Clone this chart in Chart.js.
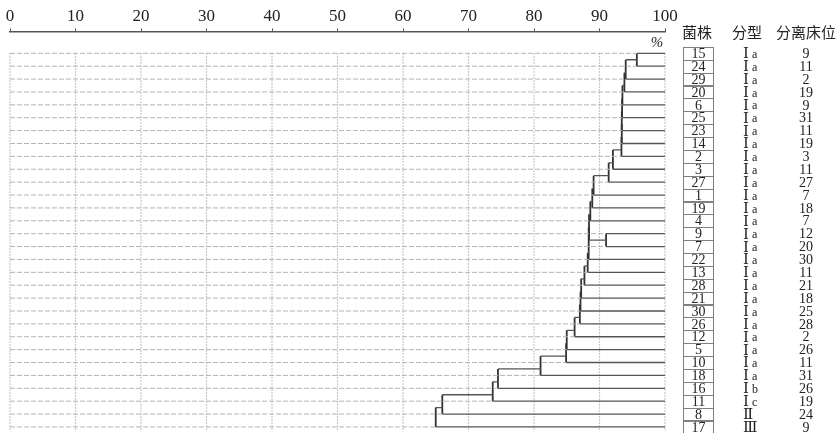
<!DOCTYPE html>
<html>
<head>
<meta charset="utf-8">
<script src="https://cdn.jsdelivr.net/npm/chart.js@4.4.1/dist/chart.umd.min.js"></script>
<style>
  html, body { margin: 0; padding: 0; background: #fff; }
  #wrap { width: 837px; height: 433px; }
</style>
</head>
<body>
<div id="wrap"><canvas id="myChart"></canvas></div>
<script>
// leaf order, top to bottom
const strains = ['15','24','29','20','6','25','23','14','2','3','27','1','19','4','9','7','22','13','28','21','30','26','12','5','10','18','16','11','8','17']
const typeMain = ['Ⅰ','Ⅰ','Ⅰ','Ⅰ','Ⅰ','Ⅰ','Ⅰ','Ⅰ','Ⅰ','Ⅰ','Ⅰ','Ⅰ','Ⅰ','Ⅰ','Ⅰ','Ⅰ','Ⅰ','Ⅰ','Ⅰ','Ⅰ','Ⅰ','Ⅰ','Ⅰ','Ⅰ','Ⅰ','Ⅰ','Ⅰ','Ⅰ','Ⅱ','Ⅲ']
const typeSub = ['a','a','a','a','a','a','a','a','a','a','a','a','a','a','a','a','a','a','a','a','a','a','a','a','a','a','b','c','','']
const beds = [9,11,2,19,9,31,11,19,3,11,27,7,18,7,12,20,30,11,21,18,25,28,2,26,11,31,26,19,24,9]
const xTicks = [0,10,20,30,40,50,60,70,80,90,100]

// merges: cluster cN joins mergeA[N] and mergeB[N] at similarity mergeH[N] (%)
const mergeA = ['15','c0','c1','c2','c3','c4','c5','c6','c7','c8','9','c9','c11','c12','c13','c14','c15','c16','c17','c18','c19','c20','c21','c22','c23','c24','c25','c26','c27']
const mergeB = ['24','29','20','6','25','23','14','2','3','27','7','1','19','4','c10','22','13','28','21','30','26','12','5','10','18','16','11','8','17']
const mergeH = [95.7,94.0,93.8,93.5,93.45,93.4,93.4,93.35,92.05,91.4,91.0,89.1,88.9,88.6,88.4,88.35,88.2,87.7,87.2,87.1,87.0,86.2,85.0,84.9,81.0,74.5,73.7,66.0,65.0]

const nodes = {}
strains.forEach((s, i) => { nodes[s] = {y: i, first: i, last: i, h: 100, leaf: true} })

const solidH = []   // horizontal branches
const solidV = []   // vertical joins
const dashed = []   // leaf extensions to 0
mergeA.forEach((a, i) => {
    const A = nodes[a], B = nodes[mergeB[i]], h = mergeH[i]
    ;[A, B].forEach(n => {
        solidH.push([{x: n.h, y: n.y}, {x: h, y: n.y}])
        if (n.leaf) dashed.push([{x: 0, y: n.y}, {x: h, y: n.y}])
    })
    solidV.push([{x: h, y: A.y}, {x: h, y: B.y}])
    nodes['c' + i] = {y: (A.last + B.first) / 2, first: A.first, last: B.last, h: h, leaf: false}
})

const seg = (pts, color, width, dash) => ({
    data: pts, showLine: true, borderColor: color, borderWidth: width,
    borderDash: dash || [], pointRadius: 0, fill: false
})
const datasets = []
dashed.forEach(p => datasets.push(seg(p, '#b4b4b4', 1, [5, 2])))
solidH.forEach(p => datasets.push(seg(p, '#555', 1.3)))
solidV.forEach(p => datasets.push(seg(p, '#333', 1.8)))

const serif = "'Liberation Serif', 'DejaVu Serif', serif"
const cjk = "'Noto Sans CJK SC', sans-serif"

const extras = {
    id: 'extras',
    beforeDatasetsDraw(chart) {
        const ctx = chart.ctx, xs = chart.scales.x, ys = chart.scales.y
        ctx.save()
        ctx.strokeStyle = '#b8b8b8'
        ctx.lineWidth = 1.2
        ctx.setLineDash([1.5, 1.5])
        xTicks.forEach(v => {
            const x = xs.getPixelForValue(v)
            ctx.beginPath()
            ctx.moveTo(x, ys.getPixelForValue(0))
            ctx.lineTo(x, ys.getPixelForValue(29.35))
            ctx.stroke()
        })
        ctx.restore()
    },
    afterDraw(chart) {
        const ctx = chart.ctx, xs = chart.scales.x, ys = chart.scales.y
        ctx.save()
        ctx.fillStyle = '#222'
        ctx.textBaseline = 'middle'
        ctx.font = 'italic 15px ' + serif
        ctx.textAlign = 'center'
        ctx.fillText('%', xs.getPixelForValue(100) - 8, 43)

        ctx.font = '15px ' + cjk
        ctx.fillText('菌株', 697, 32)
        ctx.fillText('分型', 747, 32)
        ctx.fillText('分离床位', 806, 32)

        strains.forEach((s, i) => {
            const y = ys.getPixelForValue(i)
            ctx.strokeStyle = '#808080'
            ctx.lineWidth = 1
            ctx.strokeRect(683.5, Math.round(y - 6.5) + 0.5, 30, 13)
            ctx.textAlign = 'center'
            ctx.font = '14px ' + serif
            ctx.fillText(s, 698.5, y + 1)
            ctx.fillText(String(beds[i]), 806, y + 1)
            ctx.textAlign = 'left'
            ctx.font = '15px ' + serif
            ctx.fillText(typeMain[i], 743, y + 1)
            if (typeSub[i]) {
                ctx.font = '12px ' + serif
                ctx.fillText(typeSub[i], 752, y + 1.5)
            }
        })
        ctx.restore()
    }
}

new Chart(document.getElementById('myChart').getContext('2d'), {
    type: 'scatter',
    data: { datasets: datasets },
    options: {
        responsive: true,
        maintainAspectRatio: false,
        animation: false,
        layout: { padding: { left: 10, right: 172, top: 4, bottom: 0 } },
        plugins: { legend: { display: false }, tooltip: { enabled: false } },
        scales: {
            x: {
                type: 'linear', position: 'top', min: 0, max: 100,
                afterBuildTicks: scale => { scale.ticks = xTicks.map(v => ({value: v})) },
                ticks: { color: '#222', padding: 2, maxRotation: 0, font: { family: serif, size: 17 } },
                grid: { drawOnChartArea: false, tickLength: 3, color: '#555' },
                border: { color: '#555', width: 1.5 }
            },
            y: { type: 'linear', display: false, reverse: true, min: -1.7, max: 29.47 }
        }
    },
    plugins: [extras]
})
</script>
</body>
</html>
